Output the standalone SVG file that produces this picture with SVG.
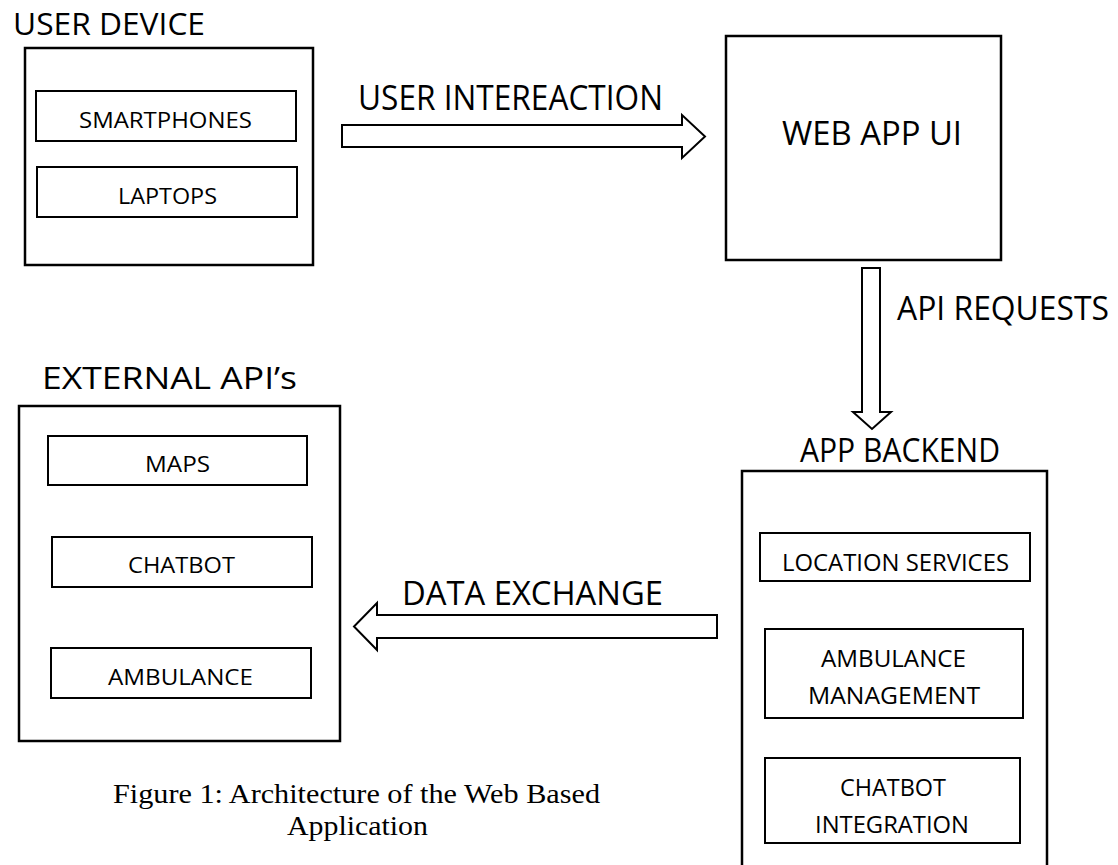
<svg xmlns="http://www.w3.org/2000/svg" width="1118" height="865" viewBox="0 0 1118 865">
<style>
.box{fill:#fff;stroke:#000;stroke-width:2.5}
.ibox{fill:#fff;stroke:#000;stroke-width:2}
.t{font-family:"Open Sans","Liberation Sans",sans-serif;fill:#000}
.arrow{fill:#fff;stroke:#000;stroke-width:2;stroke-linejoin:miter}
.cap{font-family:"Liberation Serif","Times New Roman",serif;fill:#000;font-size:27px}
</style>
<rect width="1118" height="865" fill="#fff"/>
<g id="user-device">
<text class="t" x="13" y="35" font-size="31" textLength="192" lengthAdjust="spacingAndGlyphs">USER DEVICE</text>
<rect class="box" x="25" y="48" width="288" height="217"/>
<g id="smartphones"><rect class="ibox" x="36" y="91" width="260" height="50"/>
<text class="t" x="79" y="128" font-size="22" textLength="173" lengthAdjust="spacingAndGlyphs">SMARTPHONES</text></g>
<g id="laptops"><rect class="ibox" x="37" y="167" width="260" height="50"/>
<text class="t" x="118" y="204" font-size="22" textLength="99" lengthAdjust="spacingAndGlyphs">LAPTOPS</text></g>
</g>
<g id="web-app-ui">
<rect class="box" x="726" y="36" width="275" height="224"/>
<text class="t" x="782" y="145" font-size="32" textLength="180" lengthAdjust="spacingAndGlyphs">WEB APP UI</text>
</g>
<g id="app-backend">
<text class="t" x="800" y="462" font-size="32" textLength="200" lengthAdjust="spacingAndGlyphs">APP BACKEND</text>
<path class="box" d="M742 866 V471 H1047 V866" fill="none"/>
<g id="location-services"><rect class="ibox" x="760" y="533" width="270" height="48"/>
<text class="t" x="782" y="571" font-size="23" textLength="227" lengthAdjust="spacingAndGlyphs">LOCATION SERVICES</text></g>
<g id="ambulance-management"><rect class="ibox" x="765" y="629" width="258" height="89"/>
<text class="t" x="821" y="667" font-size="23" textLength="145" lengthAdjust="spacingAndGlyphs">AMBULANCE</text>
<text class="t" x="808" y="704" font-size="23" textLength="172" lengthAdjust="spacingAndGlyphs">MANAGEMENT</text></g>
<g id="chatbot-integration"><rect class="ibox" x="765" y="758" width="255" height="85"/>
<text class="t" x="840" y="796" font-size="23" textLength="106" lengthAdjust="spacingAndGlyphs">CHATBOT</text>
<text class="t" x="815" y="833" font-size="23" textLength="154" lengthAdjust="spacingAndGlyphs">INTEGRATION</text></g>
</g>
<g id="external-apis">
<text class="t" x="42" y="389" font-size="31" textLength="255" lengthAdjust="spacingAndGlyphs">EXTERNAL API’s</text>
<rect class="box" x="19" y="406" width="321" height="335"/>
<g id="maps"><rect class="ibox" x="48" y="436" width="259" height="49"/>
<text class="t" x="145" y="472" font-size="22" textLength="65" lengthAdjust="spacingAndGlyphs">MAPS</text></g>
<g id="chatbot"><rect class="ibox" x="52" y="537" width="260" height="50"/>
<text class="t" x="128" y="573" font-size="22" textLength="107" lengthAdjust="spacingAndGlyphs">CHATBOT</text></g>
<g id="ambulance"><rect class="ibox" x="51" y="648" width="260" height="50"/>
<text class="t" x="108" y="685" font-size="22" textLength="145" lengthAdjust="spacingAndGlyphs">AMBULANCE</text></g>
</g>
<g id="connectors">
<path class="arrow" d="M342 125 H682 V115 L705 136.5 L682 158 V147 H342 Z"/>
<text class="t" x="358" y="110" font-size="34" textLength="305" lengthAdjust="spacingAndGlyphs">USER INTEREACTION</text>
<path class="arrow" d="M862 268 V412 H853 L872 429 L891 412 H880 V268 Z"/>
<text class="t" x="897" y="320" font-size="32" textLength="212" lengthAdjust="spacingAndGlyphs">API REQUESTS</text>
<path class="arrow" d="M717 615 H377 V603 L354 626.5 L377 650 V638 H717 Z"/>
<text class="t" x="402" y="605" font-size="32" textLength="261" lengthAdjust="spacingAndGlyphs">DATA EXCHANGE</text>
</g>
<g id="caption">
<text class="cap" x="113" y="803" textLength="487" lengthAdjust="spacingAndGlyphs">Figure 1: Architecture of the Web Based</text>
<text class="cap" x="287" y="835" textLength="141" lengthAdjust="spacingAndGlyphs">Application</text>
</g>
</svg>
